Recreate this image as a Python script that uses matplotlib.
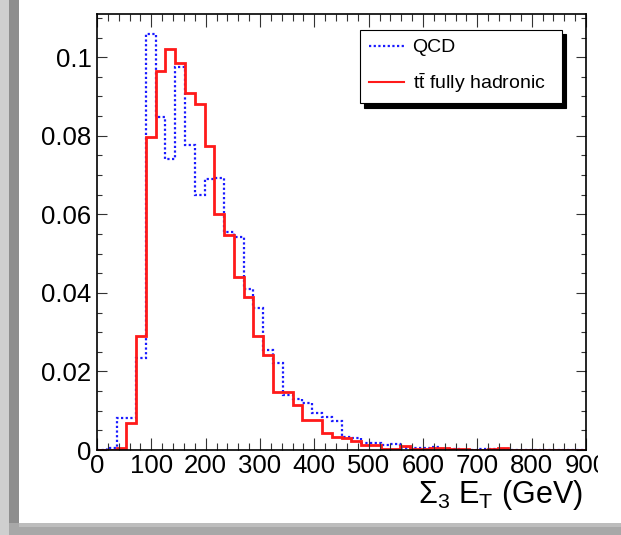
import numpy as np
import matplotlib
matplotlib.use("Agg")
import matplotlib.pyplot as plt
from matplotlib.patches import Rectangle
from matplotlib.ticker import MultipleLocator, FixedLocator, FixedFormatter

plt.rcParams['font.family'] = ['Liberation Sans', 'DejaVu Sans']
plt.rcParams['mathtext.fontset'] = 'custom'
plt.rcParams['mathtext.rm'] = 'Liberation Sans'
plt.rcParams['mathtext.it'] = 'Liberation Sans:italic'
plt.rcParams['mathtext.bf'] = 'Liberation Sans:bold'

# ---- data (50 bins of 18 GeV from 0 to 900) ----
bin_edges = np.arange(0, 901, 18)
qcd = [0.0, 0.0005, 0.0081, 0.0081, 0.0233, 0.1058, 0.0848, 0.0740, 0.0975, 0.0776,
       0.0649, 0.0689, 0.0692, 0.0556, 0.0541, 0.0410, 0.0362, 0.0254, 0.0221, 0.0140,
       0.0129, 0.0119, 0.0095, 0.0083, 0.0075, 0.0033, 0.0030, 0.0017, 0.0017, 0.0013,
       0.0015, 0.0004, 0.0004, 0.0004, 0.0008, 0.0003, 0.0003, 0.0001, 0.0001, 0.0002,
       0.0002, 0.0003, 0.0, 0.0, 0.0, 0.0, 0.0, 0.0, 0.0, 0.0]
ttbar = [0.0, 0.0, 0.0004, 0.0068, 0.0290, 0.0797, 0.0964, 0.1020, 0.0986, 0.0909,
         0.0880, 0.0773, 0.0602, 0.0547, 0.0441, 0.0390, 0.0290, 0.0242, 0.0148, 0.0148,
         0.0115, 0.0076, 0.0076, 0.0043, 0.0032, 0.0031, 0.0024, 0.0013, 0.0013, 0.0003,
         0.0003, 0.0009, 0.0003, 0.0003, 0.0006, 0.0005, 0.0002, 0.0002, 0.0001, 0.0001,
         0.0002, 0.0004, 0.0001, 0.0001, 0.0001, 0.0001, 0.0001, 0.0001, 0.0001, 0.0001]
series_labels = ['QCD', r'$\mathrm{t\bar{t}}$ fully hadronic']
xticks = [0, 100, 200, 300, 400, 500, 600, 700, 800, 900]
xticklabels = ['0', '100', '200', '300', '400', '500', '600', '700', '800', '900']
yticks = [0, 0.02, 0.04, 0.06, 0.08, 0.1]
yticklabels = ['0', '0.02', '0.04', '0.06', '0.08', '0.1']
xlabel = r'$\mathrm{\Sigma_3\ E_T\ (GeV)}$'

W, H = 621, 535
fig = plt.figure(figsize=(W / 100, H / 100), dpi=100)
fig.patch.set_facecolor('white')

ax = fig.add_axes([97 / W, 1 - 450 / H, 489 / W, 436 / H])
ax.stairs(qcd, bin_edges, color='#1a1aff', lw=1.6, linestyle=(0, (1.0, 1.1)), label=series_labels[0])
ax.stairs(ttbar, bin_edges, color='#ff1a1a', lw=2.0, label=series_labels[1])

ax.set_xlim(0, 900)
ax.set_ylim(0, 0.111)
ax.xaxis.set_major_locator(FixedLocator(xticks))
ax.xaxis.set_major_formatter(FixedFormatter(xticklabels))
ax.yaxis.set_major_locator(FixedLocator(yticks))
ax.yaxis.set_major_formatter(FixedFormatter(yticklabels))
ax.xaxis.set_minor_locator(MultipleLocator(20))
ax.yaxis.set_minor_locator(MultipleLocator(0.005))
ax.tick_params(which='both', direction='in', top=True, right=True, width=0.8, color='#333333')
ax.tick_params(axis='x', which='major', length=9, pad=3, labelsize=18.5)
ax.tick_params(axis='x', which='minor', length=5)
ax.tick_params(axis='y', which='major', length=7.5, pad=4, labelsize=18.5)
ax.tick_params(axis='y', which='minor', length=3.8)
for s in ax.spines.values():
    s.set_linewidth(1.2)

ax.text(0.993, -0.122, xlabel, transform=ax.transAxes, ha='right', va='baseline', fontsize=22)

leg = ax.legend(loc='upper left', bbox_to_anchor=(0.538, 0.821, 0.413, 0.142), mode='expand',
                fontsize=14, frameon=True, fancybox=False, edgecolor='black',
                shadow={'color': 'black', 'alpha': 1.0, 'ox': 3, 'oy': -3},
                handlelength=1.8, handletextpad=0.45, borderpad=0.45, labelspacing=0.75,
                borderaxespad=0)
leg.get_frame().set_linewidth(0.8)
from matplotlib.lines import Line2D
handles = [Line2D([], [], color='#1a1aff', lw=1.6, linestyle=(0, (1.0, 1.1))),
           Line2D([], [], color='#ff1a1a', lw=1.5)]
leg.remove()
leg = ax.legend(handles, series_labels, loc='upper left', bbox_to_anchor=(0.538, 0.821, 0.413, 0.142),
                mode='expand', fontsize=14, frameon=True, fancybox=False, edgecolor='black',
                shadow={'color': 'black', 'alpha': 1.0, 'ox': 3, 'oy': -3},
                handlelength=1.8, handletextpad=0.45, borderpad=0.45, labelspacing=0.75,
                borderaxespad=0)
leg.get_frame().set_linewidth(0.8)

# slide borders / crop
def px_rect(x0, y0, x1, y1, color, z=20):
    fig.patches.append(Rectangle((x0 / W, 1 - y1 / H), (x1 - x0) / W, (y1 - y0) / H,
                                 transform=fig.transFigure, color=color, zorder=z, lw=0))

px_rect(598, 0, W, 523, 'white')
px_rect(0, 0, 9, H, '#cfcfcf')
px_rect(9, 0, 19, 523, '#8e8e8e')
px_rect(9, 523, W, H, '#a8a8a8')
px_rect(19, 523, W, 527, '#bdbdbd')

fig.savefig('out.png', dpi=100)
